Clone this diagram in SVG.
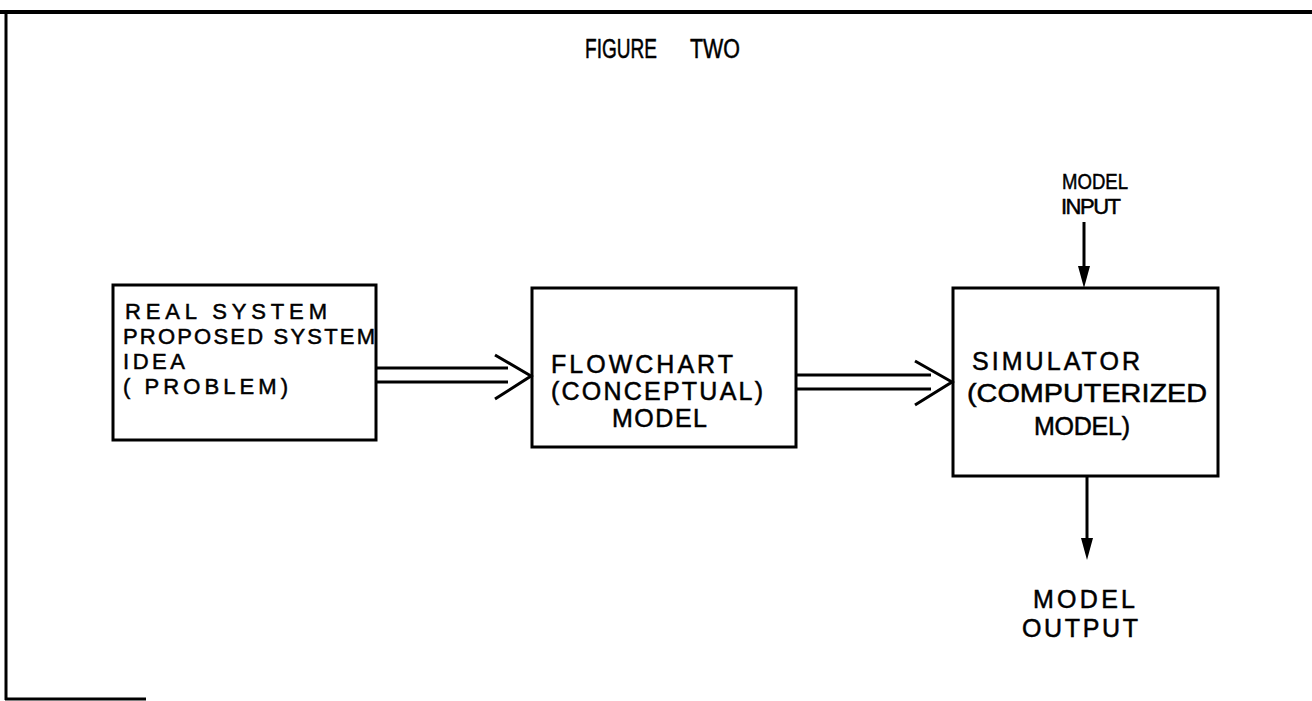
<svg xmlns="http://www.w3.org/2000/svg" width="1312" height="701" viewBox="0 0 1312 701">
<style>
.box{fill:none;stroke:#000;stroke-width:3}
.ln{fill:none;stroke:#000;stroke-width:3;stroke-linecap:butt}
.t{font-family:"Liberation Sans",Arial,sans-serif;font-size:25px;fill:#000;stroke:#000;stroke-width:0.5}
.s{font-size:22px}
</style>
<rect width="1312" height="701" fill="#fff"/>
<g id="frame">
<line class="ln" x1="0" y1="12" x2="1312" y2="12" style="stroke-width:4"/>
<line class="ln" x1="6" y1="11" x2="6" y2="700"/>
<line class="ln" x1="5" y1="699" x2="146" y2="699"/>
</g>
<g id="title"><text class="t" x="585" y="58" style="font-size:27px" textLength="72" lengthAdjust="spacingAndGlyphs">FIGURE</text><text class="t" x="690" y="58" style="font-size:27px" textLength="50" lengthAdjust="spacingAndGlyphs">TWO</text></g>
<g id="real-system">
<rect class="box" x="113" y="285" width="263" height="155"/>
<text class="t s" x="125" y="319" textLength="202" lengthAdjust="spacing">REAL SYSTEM</text>
<text class="t s" x="123" y="344" textLength="252" lengthAdjust="spacing">PROPOSED SYSTEM</text>
<text class="t s" x="123" y="369" textLength="62" lengthAdjust="spacing">IDEA</text>
<text class="t s" x="123" y="394" textLength="165" lengthAdjust="spacing">( PROBLEM)</text>
</g>
<g id="flowchart">
<rect class="box" x="532" y="288" width="264" height="159"/>
<text class="t" x="551" y="373" textLength="182" lengthAdjust="spacing">FLOWCHART</text>
<text class="t" x="551" y="400" textLength="212" lengthAdjust="spacing">(CONCEPTUAL)</text>
<text class="t" x="612" y="427" textLength="95" lengthAdjust="spacing">MODEL</text>
</g>
<g id="simulator">
<rect class="box" x="953" y="288" width="265" height="188"/>
<text class="t" x="972" y="370" textLength="168" lengthAdjust="spacing">SIMULATOR</text>
<text class="t" x="967" y="402" textLength="240" lengthAdjust="spacingAndGlyphs">(COMPUTERIZED</text>
<text class="t" x="1034" y="435" textLength="96" lengthAdjust="spacing">MODEL)</text>
</g>
<g id="model-input">
<text class="t s" x="1062" y="189" textLength="66" lengthAdjust="spacingAndGlyphs">MODEL</text>
<text class="t s" x="1061" y="214" textLength="60" lengthAdjust="spacing">INPUT</text>
</g>
<g id="model-output">
<text class="t" x="1033" y="608" textLength="102" lengthAdjust="spacing">MODEL</text>
<text class="t" x="1022" y="637" textLength="116" lengthAdjust="spacing">OUTPUT</text>
</g>
<g id="connectors">
<line class="ln" x1="376" y1="368" x2="508" y2="368"/>
<line class="ln" x1="376" y1="382" x2="508" y2="382"/>
<polyline class="ln" points="495,355 531,376 495,399"/>
<line class="ln" x1="796" y1="375" x2="931" y2="375"/>
<line class="ln" x1="796" y1="389" x2="931" y2="389"/>
<polyline class="ln" points="915,361 952,382 915,405"/>
<line class="ln" x1="1084" y1="222" x2="1084" y2="272"/>
<polygon points="1078,266 1090,266 1084,288" fill="#000"/>
<line class="ln" x1="1087" y1="476" x2="1087" y2="545"/>
<polygon points="1081,538 1093,538 1087,560" fill="#000"/>
</g>
</svg>
